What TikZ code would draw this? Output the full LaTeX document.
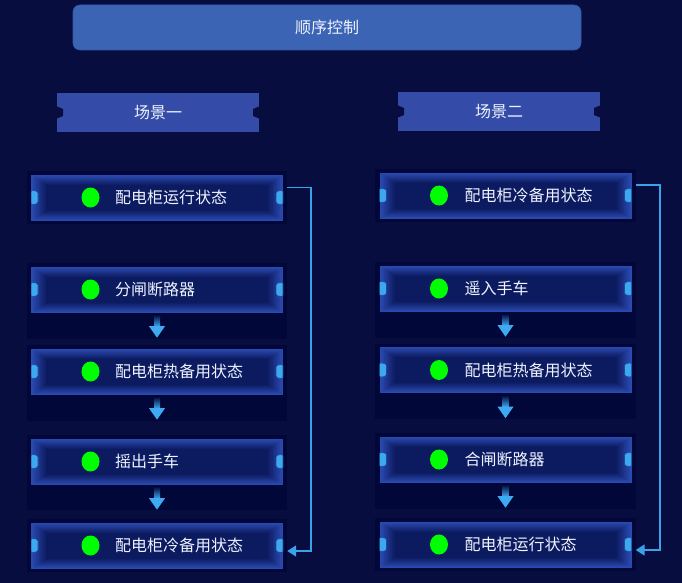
\documentclass[tikz,border=0pt]{standalone}
\usepackage{fontspec}
\newfontfamily\cjk{Noto Sans CJK SC}
\usetikzlibrary{arrows.meta,calc}
\definecolor{bgc}{HTML}{080D40}
\definecolor{panelc}{HTML}{02073A}
\definecolor{topc}{HTML}{3B64B5}
\definecolor{topedge}{HTML}{3358A8}
\definecolor{scenec}{HTML}{344CA7}
\definecolor{glowa}{HTML}{2A4AB0}
\definecolor{glowe}{HTML}{0C1A60}
\definecolor{tabc}{HTML}{3DA8F0}
\definecolor{tabedge}{HTML}{1B4E9A}
\definecolor{dotc}{HTML}{00FF00}
\definecolor{arrc}{HTML}{3DAAF2}
\definecolor{connc}{HTML}{3AA2EA}
\definecolor{txtc}{HTML}{EEF3FF}
\pgfdeclarelayer{background}
\pgfsetlayers{background,main}
\newcommand\flowdown[1]{%
  \shade[top color=panelc, bottom color=arrc] ($(#1.south)+(-3,2)$) rectangle ($(#1.south)+(3,14)$);
  \fill[arrc] ($(#1.south)+(-8,13.5)$) -- ($(#1.south)+(8,13.5)$) -- ($(#1.south)+(0,25)$) -- cycle;}
\newcommand\panelaround[2]{%
  \begin{pgfonlayer}{background}
  \fill[panelc] ($(#1.north west)+(-4,-3)$) rectangle ($(#1.south east)+(4,#2)$);
  \end{pgfonlayer}}
\begin{document}
\begin{tikzpicture}[x=1pt,y=-1pt,
  txt/.style={font=\cjk\fontsize{16pt}{18pt}\selectfont, text=txtc},
  topbox/.style={txt, minimum width=508pt, minimum height=45pt, inner sep=0pt,
    rounded corners=7pt, fill=topc, draw=topedge, line width=0.6pt},
  scenebox/.style={txt, minimum width=202pt, minimum height=39pt, inner sep=0pt, fill=scenec,
    path picture={
      \fill[bgc] ([yshift=6pt]path picture bounding box.west) -- ++(6pt,-2.5pt) -- ++(0pt,-7pt) -- ++(-6pt,-2.5pt) -- cycle;
      \fill[bgc] ([yshift=6pt]path picture bounding box.east) -- ++(-6pt,-2.5pt) -- ++(0pt,-7pt) -- ++(6pt,-2.5pt) -- cycle;
    }},
  stepbox/.style={txt, minimum width=252pt, minimum height=46pt, inner sep=0pt,
    text width=252pt, align=left, fill=glowa,
    path picture={
      \foreach \i in {1,...,10}{
        \pgfmathsetmacro{\pc}{100-\i*10}
        \fill[glowa!\pc!glowe] ([shift={(1.5*\i pt,-1*\i pt)}]path picture bounding box.north west) rectangle ([shift={(-1.5*\i pt,1*\i pt)}]path picture bounding box.south east);
      }
      \filldraw[fill=tabc, draw=tabedge, line width=0.6pt, rounded corners=1.5pt] ([yshift=7.5pt]path picture bounding box.west) -- ++(7pt,-1.5pt) -- ++(0pt,-12pt) -- ++(-7pt,-1.5pt) -- cycle;
      \filldraw[fill=tabc, draw=tabedge, line width=0.6pt, rounded corners=1.5pt] ([yshift=7.5pt]path picture bounding box.east) -- ++(-7pt,-1.5pt) -- ++(0pt,-12pt) -- ++(7pt,-1.5pt) -- cycle;
      \fill[dotc] ([xshift=59.5pt]path picture bounding box.west) ellipse [x radius=9pt, y radius=10pt];
    }},
  conn/.style={draw=connc, line width=1.6pt, -{Triangle[width=11pt,length=9pt]}}
]
\begin{pgfonlayer}{background}
\fill[bgc] (0,0) rectangle (682,583);
\end{pgfonlayer}
\useasboundingbox (0,0) rectangle (682,583);

\node[topbox] (top) at (327,27.5) {顺序控制};
\node[scenebox] (s1) at (158,112.5) {场景一};
\node[scenebox] (s2) at (499,111.5) {场景二};

% left column
\node[stepbox] (l1) at (157,197.5) {\hspace*{84pt}配电柜运行状态};
\node[stepbox] (l2) at (157,289.5) {\hspace*{84pt}分闸断路器};
\node[stepbox] (l3) at (157,371.5) {\hspace*{84pt}配电柜热备用状态};
\node[stepbox] (l4) at (157,461.5) {\hspace*{84pt}摇出手车};
\node[stepbox] (l5) at (157,545.5) {\hspace*{84pt}配电柜冷备用状态};

% right column
\node[stepbox] (r1) at (505.5,195.5) {\hspace*{85pt}配电柜冷备用状态};
\node[stepbox] (r2) at (505.5,288.5) {\hspace*{85pt}遥入手车};
\node[stepbox] (r3) at (505.5,370) {\hspace*{85pt}配电柜热备用状态};
\node[stepbox] (r4) at (505.5,459.5) {\hspace*{85pt}合闸断路器};
\node[stepbox] (r5) at (505.5,544.5) {\hspace*{85pt}配电柜运行状态};

\panelaround{l1}{3}
\panelaround{l2}{26}
\panelaround{l3}{26}
\panelaround{l4}{25}
\panelaround{l5}{3}
\panelaround{r1}{3}
\panelaround{r2}{26}
\panelaround{r3}{26}
\panelaround{r4}{26}
\panelaround{r5}{3}

\flowdown{l2}
\flowdown{l3}
\flowdown{l4}
\flowdown{r2}
\flowdown{r3}
\flowdown{r4}

\draw[conn] ([shift={(4pt,10pt)}]l1.east) -- ++(24,0) |- ([shift={(4pt,-5.5pt)}]l5.east);
\draw[conn] ([shift={(4pt,10.5pt)}]r1.east) -- ++(24,0) |- ([shift={(4pt,-5.5pt)}]r5.east);
\end{tikzpicture}
\end{document}
